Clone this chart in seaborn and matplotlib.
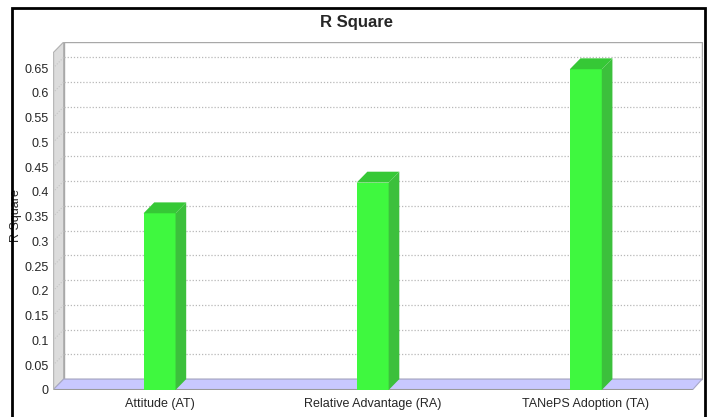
import pandas as pd
import seaborn as sns
import matplotlib.pyplot as plt
from matplotlib.patches import Polygon, Rectangle

# data
categories = ['Attitude (AT)', 'Relative Advantage (RA)', 'TANePS Adoption (TA)']
r_square = [0.357, 0.419, 0.648]
y_ticks = [0, 0.05, 0.1, 0.15, 0.2, 0.25, 0.3, 0.35, 0.4, 0.45, 0.5, 0.55, 0.6, 0.65]
y_tick_labels = ['0', '0.05', '0.1', '0.15', '0.2', '0.25', '0.3', '0.35', '0.4',
                 '0.45', '0.5', '0.55', '0.6', '0.65']

df = pd.DataFrame({'Construct': categories, 'R Square': r_square})

sns.set_style('white')
plt.rcParams['font.family'] = ['Liberation Sans', 'DejaVu Sans']

W, H = 712, 417
fig = plt.figure(figsize=(W / 100, H / 100), dpi=100)
ax = fig.add_axes([53 / W, 27 / H, 650 / W, 348 / H])

xmin, xmax = -0.5, 2.55
ymin, ymax = 0, 0.703
dx, dy = 0.05, 0.022   # 3d depth offset

# walls and floor
ax.add_patch(Polygon([(xmin, ymin), (xmin + dx, dy), (xmin + dx, ymax), (xmin, ymax - dy)],
                     closed=True, facecolor='#dcdcdc', edgecolor='#b0b0b0', lw=0.8, zorder=0))
ax.add_patch(Rectangle((xmin + dx, dy), xmax - xmin - dx - 0.004, ymax - dy - 0.001,
                       facecolor='white', edgecolor='#a8a8a8', lw=1.0, zorder=0))
ax.add_patch(Polygon([(xmin, ymin), (xmin + dx, dy), (xmax - 0.004, dy), (xmax - dx, ymin)],
                     closed=True, facecolor='#c8c8ff', edgecolor='#a8a8c8', lw=0.8, zorder=1))
ax.plot([xmin, xmax - dx], [0, 0], color='#9a9a9a', lw=1.5, zorder=1)
ax.plot([xmin, xmin], [0, ymax - dy], color='#b8b8b8', lw=1.0, zorder=1)

# dotted gridlines on the back wall and left wall
for v in y_ticks[1:]:
    ax.plot([xmin + dx, xmax - 0.004], [v + dy, v + dy], color='#b8b8b8',
            lw=0.9, ls=(0, (1, 1.5)), zorder=0.5)
    ax.plot([xmin, xmin + dx], [v, v + dy], color='#c4c4c4',
            lw=0.8, ls=(0, (1, 1.5)), zorder=0.5)

sns.barplot(data=df, x='Construct', y='R Square', color='#3ff83f', width=0.15,
            saturation=1, ax=ax, zorder=3)

# 3d top and side faces of every bar
for bar in ax.patches:
    if bar.get_zorder() != 3:
        continue
    bar.set_edgecolor('none')
    x, w, h = bar.get_x(), bar.get_width(), bar.get_height()
    ax.add_patch(Polygon([(x, h), (x + dx, h + dy), (x + w + dx, h + dy), (x + w, h)],
                         closed=True, facecolor='#36c836', edgecolor='none', zorder=3))
    ax.add_patch(Polygon([(x + w, 0), (x + w + dx, dy), (x + w + dx, h + dy), (x + w, h)],
                         closed=True, facecolor='#3cc03c', edgecolor='none', zorder=3))

ax.set_xlim(xmin, xmax)
ax.set_ylim(ymin, ymax)
ax.set_yticks(y_ticks)
ax.set_yticklabels(y_tick_labels)
ax.tick_params(axis='both', length=0, pad=3, labelsize=9)
ax.tick_params(axis='x', pad=6)
for s in ax.spines.values():
    s.set_visible(False)
ax.set_xlabel('')
ax.set_ylabel('R Square', fontsize=9)
ax.yaxis.set_label_coords(-0.048, 0.5)

fig.text(0.5, 1 - 22 / H, 'R Square', ha='center', va='center',
         fontsize=12, fontweight='bold')

# frame around the whole chart
fig.add_artist(Rectangle((12 / W, -0.01), 693 / W, 1 - 8 / H + 0.01, transform=fig.transFigure,
                         fill=False, edgecolor='black', lw=2))

fig.savefig('out.png', dpi=100)
